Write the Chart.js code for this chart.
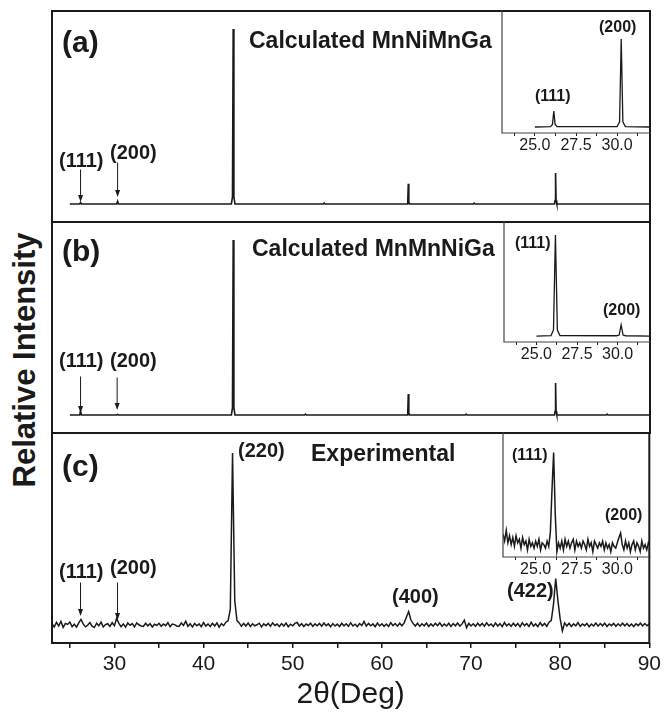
<!DOCTYPE html>
<html>
<head>
<meta charset="utf-8">
<script src="https://cdn.jsdelivr.net/npm/chart.js@4.4.1/dist/chart.umd.min.js"></script>
<style>
  html, body { margin: 0; padding: 0; background: #fff; }
  #wrap { position: relative; width: 665px; height: 713px; overflow: hidden; background: #fff; }
  #wrap canvas { position: absolute; }
  #ytitle { position: absolute; left: 25px; top: 360px; transform: translate(-50%, -50%) rotate(-90deg);
            font-family: "Liberation Sans", Arial, sans-serif; font-weight: bold; font-size: 31px;
            color: #1a1a1a; white-space: nowrap; }
</style>
</head>
<body>
<div id="wrap">
  <canvas id="panelA" width="608" height="221" style="left:47px;top:6px"></canvas>
  <canvas id="panelB" width="608" height="221" style="left:47px;top:217px"></canvas>
  <canvas id="panelC" width="618" height="285" style="left:47px;top:428px"></canvas>
  <canvas id="insetA" width="165" height="152" style="left:497px;top:6px"></canvas>
  <canvas id="insetB" width="163" height="150" style="left:499px;top:217px"></canvas>
  <canvas id="insetC" width="164" height="154" style="left:498px;top:428px"></canvas>
  <div id="ytitle">Relative Intensity</div>
</div>
<script>
// ---- data ----
// (a) calculated MnNiMnGa, 2theta / relative intensity (%)
const calcAX = [25, 26.1, 26.2, 26.3, 30.25, 30.35, 30.45, 43.1, 43.22, 43.3, 43.38, 43.5, 53.4, 53.5, 53.6,
                62.78, 62.86, 62.92, 62.98, 63.06, 70.2, 70.3, 70.4, 79.3, 79.36, 79.42, 79.48, 79.56, 90];
const calcAY = [0, 0, 0.8, 0, 0, 1.5, 0, 0, 4, 100, 4, 0, 0, 0.6, 0,
                0, 1.5, 11.5, 1.5, 0, 0, 0.5, 0, 0, 2, 17.7, 2, 0, 0];

// (b) calculated MnMnNiGa
const calcBX = [25, 26.1, 26.2, 26.3, 30.25, 30.35, 30.45, 43.1, 43.22, 43.3, 43.38, 43.5, 51.3, 51.4, 51.5,
                62.78, 62.86, 62.92, 62.98, 63.06, 69.3, 69.4, 69.5, 79.3, 79.36, 79.42, 79.48, 79.56,
                85.1, 85.2, 85.3, 90];
const calcBY = [0, 0, 2.3, 0, 0, 0.3, 0, 0, 4, 100, 4, 0, 0, 0.5, 0,
                0, 1.5, 12, 1.5, 0, 0, 0.5, 0, 0, 2, 18.3, 2, 0,
                0, 0.5, 0, 0];

// (c) experimental scan, 23..90 deg every 0.25 deg
const expStart = 23, expStep = 0.25;
const expY = [
  0.8,-1.2,1.5,-0.6,2.1,-1.4,0.9,0.3,1.7,-1.0,
  0.4,-1.3,1.2,3.2,0.6,-1.1,-0.2,1.4,-0.7,-1.5,
  1.0,-0.5,1.6,-1.2,0.2,0.7,-0.9,1.3,-0.4,3.8,
  0.9,-1.0,0.6,-1.3,1.1,-0.2,0.8,-1.1,1.2,0.1,
  -0.6,-0.9,1.0,-0.5,0.7,-1.2,0.4,-0.3,0.9,-0.8,
  0.6,-0.4,1.3,-1.0,0.5,0.2,-0.6,-0.9,1.1,-0.3,
  2.2,-0.8,0.7,-1.1,0.9,-0.5,0.6,-1.0,1.4,-0.7,
  0.5,-0.9,1.0,-0.6,1.2,-1.3,0.8,-0.4,1.6,2.4,
  9,100,14,2.5,1.2,-0.8,0.9,-0.6,1.1,-0.9,
  0.7,-0.5,0.1,1.0,-1.1,0.6,-0.4,0.9,-0.7,1.2,
  -0.3,0.5,-0.9,0.8,-0.6,1.1,-1.0,0.4,-0.5,0.9,
  1.4,-0.6,0.7,-0.9,0.5,-0.3,1.0,-0.8,0.6,-0.5,
  0.9,-0.7,1.1,-0.4,0.6,-1.0,0.8,-0.6,0.5,-0.9,
  1.0,-0.5,0.7,-0.8,1.2,-0.6,0.4,-0.9,0.8,-0.4,
  2.0,-0.7,0.9,-0.5,0.6,-1.0,1.1,-0.6,0.7,-0.8,
  0.5,-0.9,1.3,-0.4,0.8,-0.7,1.0,-0.5,1.2,4.5,
  7.8,3.0,0.9,-0.6,1.0,-0.8,0.7,-0.5,1.1,-0.9,
  0.6,-0.7,0.9,-0.4,1.2,-0.8,0.5,-0.6,1.0,-0.9,
  0.8,-0.5,1.1,-0.7,0.6,2.8,-1.6,0.9,-0.6,0.7,
  -0.8,1.0,-0.5,0.9,-0.7,1.2,-0.4,0.6,-0.9,1.1,
  -0.6,0.8,-1.0,1.4,-0.5,0.7,-0.8,1.0,-0.6,0.9,
  -1.1,1.2,-0.4,0.8,-0.9,1.5,-0.7,0.6,-1.0,1.3,
  -0.5,0.9,-0.8,1.6,2.5,12,27,14,3.5,-3.5,
  1.2,-0.6,1.0,-0.9,0.7,-0.5,1.3,-0.8,0.6,-0.4,
  0.9,-1.0,0.5,-0.6,1.1,-0.7,0.8,-0.5,1.0,-0.9,
  0.6,-0.4,0.9,-0.8,0.7,-0.6,1.0,-0.5,0.8,-0.7,
  0.5,-0.9,0.7,-0.4,1.0,-0.6,0.8,-0.5,0.6
];

// insets, 23..32 deg
const insetAX = [25, 25.95, 26.07, 26.15, 26.23, 26.35, 30.0, 30.15, 30.25, 30.35, 30.5, 32];
const insetAY = [0, 0.5, 3, 18, 3, 0.5, 0.5, 6, 100, 6, 0.5, 0];
const insetBX = [25, 25.9, 26.05, 26.17, 26.29, 26.45, 29.95, 30.1, 30.22, 30.34, 30.5, 32];
const insetBY = [0, 0.5, 6, 100, 6, 0.5, 0.3, 1, 11, 1, 0.3, 0];
const insetCStart = 23, insetCStep = 0.1;
const insetCY = [
  13, 9, 15, 8, 12, 7, 11, 6, 12, 8,
  10, 5, 11, 7, 9, 4, 10, 6, 8, 5,
  9, 6, 10, 4, 8, 7, 5, 9, 6, 14,
  38, 59, 24, 3, 8, 5, 9, 4, 10, 6,
  9, 5, 8, 10, 4, 9, 6, 8, 5, 9,
  7, 4, 10, 6, 8, 3, 9, 7, 5, 8,
  6, 9, 4, 8, 5, 7, 3, 8, 6, 5,
  8, 11, 13.5, 7, 4, 9, 5, 8, 3, 7,
  9, 4, 8, 6, 3, 9, 5, 7, 4, 8,
  6
];

const mainTicks = [25, 30, 35, 40, 45, 50, 55, 60, 65, 70, 75, 80, 85, 90];
const mainTickLabels = [30, 40, 50, 60, 70, 80, 90];
const insetTicks = [23.75, 25, 26.25, 27.5, 28.75, 30, 31.25];
const insetTickLabels = [25, 27.5, 30];

// ---- helpers ----
const FONT = '"Liberation Sans", Arial, sans-serif';
const INK = '#1a1a1a';
Chart.defaults.font.family = FONT;
Chart.defaults.color = INK;

function pairs(xs, ys) {
  return xs.map((x, i) => ({x: x, y: ys[i]}));
}
function gridPoints(start, step, ys) {
  return ys.map((y, i) => ({x: start + i * step, y: y}));
}

// frame, labels and arrows, positions relative to the chart area
function marks(spec) {
  return {
    id: 'marks',
    afterDatasetsDraw(chart) {
      const ctx = chart.ctx;
      const a = chart.chartArea;
      ctx.save();
      ctx.strokeStyle = spec.frameColor || INK;
      ctx.lineWidth = spec.frameWidth || 2;
      ctx.lineCap = 'square';
      ctx.beginPath();
      spec.sides.forEach(s => {
        if (s === 'top') { ctx.moveTo(a.left, a.top); ctx.lineTo(a.right, a.top); }
        if (s === 'right') { ctx.moveTo(a.right, a.top); ctx.lineTo(a.right, a.bottom); }
        if (s === 'bottom') { ctx.moveTo(a.left, a.bottom); ctx.lineTo(a.right, a.bottom); }
        if (s === 'left') { ctx.moveTo(a.left, a.top); ctx.lineTo(a.left, a.bottom); }
      });
      ctx.stroke();

      ctx.fillStyle = INK;
      ctx.textBaseline = 'middle';
      ctx.textAlign = 'left';
      (spec.labels || []).forEach(l => {
        ctx.font = 'bold ' + l.size + 'px ' + FONT;
        ctx.fillText(l.t, a.left + l.rx, a.top + l.ry);
      });

      ctx.strokeStyle = INK;
      ctx.lineWidth = 1;
      (spec.arrows || []).forEach(ar => {
        const x = chart.scales.x.getPixelForValue(ar.x);
        const y1 = a.top + ar.y1, y2 = a.top + ar.y2;
        ctx.beginPath();
        ctx.moveTo(x, y1);
        ctx.lineTo(x, y2 - 5);
        ctx.stroke();
        ctx.beginPath();
        ctx.moveTo(x - 2.5, y2 - 7);
        ctx.lineTo(x + 2.5, y2 - 7);
        ctx.lineTo(x, y2);
        ctx.closePath();
        ctx.fill();
      });
      ctx.restore();
    }
  };
}

function lineData(points, width) {
  return {
    datasets: [{
      data: points,
      borderColor: INK,
      borderWidth: width,
      pointRadius: 0,
      tension: 0,
      fill: false
    }]
  };
}

function baseOptions(padding, xScale, yMin, yMax) {
  return {
    responsive: false,
    animation: false,
    events: [],
    layout: {padding: padding},
    plugins: {legend: {display: false}, tooltip: {enabled: false}},
    scales: {
      x: xScale,
      y: {min: yMin, max: yMax, display: false}
    }
  };
}

function hiddenX(min, max) {
  return {type: 'linear', min: min, max: max, display: false};
}

function axisX(min, max, ticks, labels, fmt, opts) {
  return {
    type: 'linear',
    min: min,
    max: max,
    border: {display: false},
    grid: {drawOnChartArea: false, drawTicks: true, tickLength: opts.tickLength, color: INK, lineWidth: opts.tickWidth},
    ticks: {
      autoSkip: false,
      maxRotation: 0,
      padding: opts.padding,
      font: {size: opts.fontSize},
      color: INK,
      callback: v => (labels.includes(v) ? fmt(v) : '')
    },
    title: opts.title ? {display: true, text: opts.title, font: {size: 30}, color: INK, padding: {top: 0, bottom: 0}} : {display: false},
    afterBuildTicks: scale => { scale.ticks = ticks.map(v => ({value: v})); },
    afterFit: scale => { scale.height = opts.height; }
  };
}

function generateChart(id, data, options, plugin) {
  const ctx = document.getElementById(id).getContext('2d');
  return new Chart(ctx, {type: 'line', data: data, options: options, plugins: [plugin]});
}

// ---- main panels ----
generateChart('panelA', lineData(pairs(calcAX, calcAY), 1.6),
  baseOptions(5, hiddenX(23, 90), -10.3, 110.3),
  marks({
    sides: ['top', 'right', 'bottom', 'left'],
    labels: [
      {t: '(a)', size: 30, rx: 10, ry: 33},
      {t: 'Calculated MnNiMnGa', size: 23, rx: 197, ry: 31},
      {t: '(111)', size: 20, rx: 7, ry: 150},
      {t: '(200)', size: 20, rx: 58, ry: 142}
    ],
    arrows: [{x: 26.2, y1: 159, y2: 191}, {x: 30.35, y1: 152, y2: 186}]
  }));

generateChart('panelB', lineData(pairs(calcBX, calcBY), 1.6),
  baseOptions(5, hiddenX(23, 90), -10.3, 110.3),
  marks({
    sides: ['top', 'right', 'bottom', 'left'],
    labels: [
      {t: '(b)', size: 30, rx: 10, ry: 31},
      {t: 'Calculated MnMnNiGa', size: 23, rx: 200, ry: 28},
      {t: '(111)', size: 20, rx: 7, ry: 139},
      {t: '(200)', size: 20, rx: 58, ry: 139}
    ],
    arrows: [{x: 26.2, y1: 155, y2: 191}, {x: 30.3, y1: 156, y2: 188}]
  }));

generateChart('panelC', lineData(gridPoints(expStart, expStep, expY), 1.5),
  baseOptions({left: 5, top: 5, right: 15, bottom: 0},
    axisX(23, 90, mainTicks, mainTickLabels, v => String(v),
      {tickLength: 5, tickWidth: 1.5, padding: 4, fontSize: 21, height: 70, title: '2\u03b8(Deg)'}),
    -10.5, 111.6),
  marks({
    sides: ['top', 'right', 'bottom', 'left'],
    labels: [
      {t: '(c)', size: 30, rx: 10, ry: 35},
      {t: '(220)', size: 20, rx: 186, ry: 18},
      {t: 'Experimental', size: 23, rx: 259, ry: 22},
      {t: '(111)', size: 20, rx: 7, ry: 139},
      {t: '(200)', size: 20, rx: 58, ry: 135},
      {t: '(400)', size: 20, rx: 340, ry: 164},
      {t: '(422)', size: 20, rx: 455, ry: 158}
    ],
    arrows: [{x: 26.2, y1: 150, y2: 183}, {x: 30.35, y1: 150, y2: 187}]
  }));

// ---- insets ----
function insetAxis() {
  return axisX(23, 32, insetTicks, insetTickLabels, v => v.toFixed(1),
    {tickLength: 3, tickWidth: 1, padding: 0, fontSize: 16, height: 25});
}
const insetFrame = {sides: ['left', 'bottom'], frameColor: '#444', frameWidth: 1.2};

generateChart('insetA', lineData(pairs(insetAX, insetAY), 1.3),
  baseOptions({left: 5, top: 5, right: 12, bottom: 0}, insetAxis(), -6.8, 131.8),
  marks(Object.assign({
    labels: [
      {t: '(200)', size: 16, rx: 97, ry: 17},
      {t: '(111)', size: 16, rx: 33, ry: 86}
    ]
  }, insetFrame)));

generateChart('insetB', lineData(pairs(insetBX, insetBY), 1.3),
  baseOptions({left: 5, top: 5, right: 12, bottom: 0}, insetAxis(), -5.9, 112.9),
  marks(Object.assign({
    labels: [
      {t: '(111)', size: 16, rx: 11, ry: 22},
      {t: '(200)', size: 16, rx: 99, ry: 89}
    ]
  }, insetFrame)));

generateChart('insetC', lineData(gridPoints(insetCStart, insetCStep, insetCY), 1.5),
  baseOptions({left: 5, top: 5, right: 12, bottom: 0}, insetAxis(), 0, 70),
  marks(Object.assign({
    labels: [
      {t: '(111)', size: 16, rx: 9, ry: 23},
      {t: '(200)', size: 16, rx: 102, ry: 83}
    ]
  }, insetFrame)));
</script>
</body>
</html>
